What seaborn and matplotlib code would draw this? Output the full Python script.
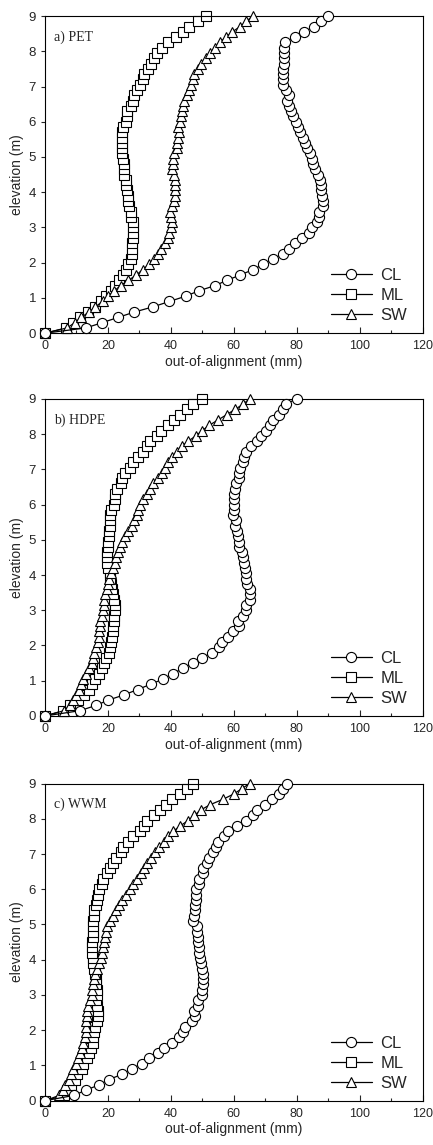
import numpy as np
import pandas as pd
import matplotlib
matplotlib.use("Agg")
import matplotlib.pyplot as plt
from matplotlib.ticker import MultipleLocator
import seaborn as sns

# elevation of the measuring points (m), shared by all curves
elevation = [0.00, 0.15, 0.30, 0.45, 0.60, 0.75, 0.90, 1.05, 1.20, 1.35,
             1.50, 1.65, 1.80, 1.95, 2.10, 2.25, 2.40, 2.55, 2.70, 2.85,
             3.00, 3.15, 3.30, 3.45, 3.60, 3.75, 3.90, 4.05, 4.20, 4.35,
             4.50, 4.65, 4.80, 4.95, 5.10, 5.25, 5.40, 5.55, 5.70, 5.85,
             6.00, 6.15, 6.30, 6.45, 6.60, 6.75, 6.90, 7.05, 7.20, 7.35,
             7.50, 7.65, 7.80, 7.95, 8.10, 8.25, 8.40, 8.55, 8.70, 8.85,
             9.00]

# out-of-alignment (mm)
pet_cl = [0, 13.0, 18.2, 23.3, 28.4, 34.4, 39.5, 44.7, 48.8, 54.0,
          57.8, 62.0, 66.0, 69.2, 72.3, 75.5, 77.4, 79.4, 81.6, 83.9,
          84.9, 86.3, 87.2, 87.1, 88.2, 88.2, 87.9, 87.6, 87.6, 87.4,
          86.9, 85.8, 85.3, 84.9, 84.2, 83.4, 82.6, 81.9, 81.0, 80.3,
          79.8, 78.9, 78.2, 77.4, 77.0, 77.4, 76.5, 75.5, 75.5, 75.7,
          75.7, 75.9, 75.9, 76.1, 76.1, 76.3, 79.4, 82.3, 85.5, 87.7,
          90.0]
pet_ml = [0, 6.7, 8.8, 11.1, 13.5, 15.9, 17.8, 19.4, 21.0, 22.2,
          23.6, 24.9, 25.7, 26.5, 27.2, 27.5, 27.5, 27.5, 27.8, 27.9,
          28.1, 28.1, 27.3, 27.2, 26.8, 26.5, 26.5, 26.0, 25.7, 25.7,
          25.1, 25.1, 25.1, 24.9, 24.4, 24.4, 24.4, 24.5, 24.6, 24.7,
          25.7, 26.0, 26.0, 27.2, 28.1, 28.4, 29.1, 30.2, 31.0, 31.6,
          32.8, 33.7, 34.6, 35.7, 37.3, 39.2, 41.5, 43.8, 45.8, 48.7,
          51.1]
pet_sw = [0, 7.0, 9.5, 11.5, 14.0, 16.0, 18.3, 20.0, 22.0, 24.0,
          26.5, 29.0, 31.0, 33.0, 34.5, 35.8, 37.0, 38.0, 39.0, 39.5,
          40.0, 40.5, 40.0, 39.8, 40.3, 41.0, 41.3, 41.3, 41.3, 41.2,
          41.0, 40.5, 40.6, 40.7, 41.0, 41.8, 42.0, 42.2, 42.5, 42.3,
          42.8, 43.2, 43.6, 43.8, 44.3, 45.0, 45.8, 46.5, 47.0, 47.5,
          48.5, 49.5, 51.0, 52.5, 54.0, 55.5, 57.5, 59.5, 62.0, 64.0,
          66.0]

hdpe_cl = [0, 11.1, 16.2, 20.1, 25.2, 29.4, 33.6, 37.6, 40.6, 43.8,
           46.9, 50.0, 53.1, 55.3, 56.1, 58.3, 59.6, 61.8, 61.4, 63.0,
           63.9, 63.9, 65.1, 65.2, 65.0, 64.3, 64.0, 64.0, 63.5, 63.3,
           62.8, 62.5, 61.8, 61.6, 61.4, 61.0, 60.5, 60.8, 59.8, 60.0,
           60.2, 60.2, 60.2, 60.3, 60.8, 61.5, 61.8, 62.0, 62.8, 63.2,
           64.0, 65.5, 67.5, 68.5, 70.3, 71.5, 72.5, 74.5, 75.5, 76.5,
           80.0]
hdpe_ml = [0, 5.8, 8.0, 10.5, 12.5, 14.0, 14.8, 15.8, 17.0, 18.0,
           18.7, 19.5, 20.3, 20.8, 21.0, 21.2, 21.5, 21.6, 21.8, 22.0,
           22.1, 22.2, 22.0, 21.5, 21.2, 21.0, 20.8, 20.5, 20.0, 19.8,
           19.7, 19.8, 20.0, 20.1, 20.2, 20.3, 20.5, 20.6, 20.8, 21.0,
           22.0, 22.2, 22.3, 23.0, 24.0, 24.5, 25.5, 27.0, 28.0, 29.5,
           31.0, 32.5, 33.5, 35.5, 37.0, 39.0, 41.0, 43.0, 45.0, 47.0,
           50.0]
hdpe_sw = [0, 6.0, 7.9, 9.0, 9.9, 10.7, 11.4, 12.2, 13.0, 14.0,
           14.8, 15.3, 15.7, 16.2, 16.7, 17.0, 17.3, 17.4, 17.5, 18.0,
           18.5, 18.6, 18.8, 19.2, 19.6, 20.0, 20.4, 21.0, 21.7, 22.1,
           22.6, 23.2, 23.8, 24.6, 25.4, 26.4, 27.5, 28.3, 29.1, 29.7,
           30.2, 31.2, 32.3, 33.3, 34.4, 35.8, 37.3, 38.2, 39.2, 40.5,
           41.8, 43.5, 45.5, 48.0, 50.0, 52.2, 55.0, 57.7, 60.4, 63.0,
           65.0]

wwm_cl = [0, 9.2, 13.0, 17.2, 20.3, 24.5, 27.5, 30.7, 33.1, 36.0,
          37.9, 40.3, 42.6, 44.0, 44.5, 46.6, 47.7, 47.4, 48.5, 48.5,
          49.8, 49.8, 50.1, 50.3, 50.3, 49.8, 49.6, 49.3, 49.0, 48.9,
          48.7, 48.5, 48.2, 48.2, 46.9, 47.5, 47.7, 47.7, 47.9, 48.0,
          48.0, 49.0, 49.0, 50.1, 50.3, 51.4, 52.2, 53.3, 54.2, 55.0,
          57.0, 58.3, 61.0, 64.0, 66.0, 67.5, 69.8, 72.0, 74.5, 75.5,
          77.0]
wwm_ml = [0, 6.0, 6.9, 8.3, 9.5, 10.3, 11.7, 12.2, 13.2, 14.1,
          14.5, 15.1, 15.4, 15.6, 15.9, 16.4, 16.7, 16.7, 16.4, 16.2,
          16.4, 16.4, 16.2, 16.1, 15.9, 15.7, 15.4, 15.1, 14.8, 15.0,
          15.0, 15.1, 15.1, 15.4, 15.4, 15.6, 15.7, 16.2, 16.6, 16.9,
          17.3, 18.0, 18.5, 19.6, 20.7, 21.7, 22.5, 24.0, 24.9, 26.5,
          28.1, 30.2, 31.5, 32.3, 34.6, 36.5, 38.3, 40.3, 42.9, 45.0,
          47.1]
wwm_sw = [0, 4.5, 5.8, 6.5, 7.5, 8.3, 9.0, 9.8, 10.5, 11.2,
          11.7, 12.2, 12.6, 13.0, 13.0, 13.1, 13.2, 13.3, 13.8, 14.3,
          14.8, 15.0, 15.3, 15.6, 16.0, 16.5, 17.0, 17.7, 18.2, 18.5,
          18.8, 19.0, 19.3, 19.6, 20.5, 21.5, 22.5, 23.5, 24.5, 25.8,
          27.0, 28.0, 29.3, 30.5, 31.5, 32.5, 33.7, 34.8, 36.3, 37.8,
          39.2, 40.8, 43.0, 45.5, 47.5, 49.5, 52.5, 56.5, 59.9, 62.5,
          65.0]

panels = ["a) PET", "b) HDPE", "c) WWM"]
series = ["CL", "ML", "SW"]
markers = {"CL": "o", "ML": "s", "SW": "^"}
zorders = {"CL": 4, "ML": 2.5, "SW": 3}

data = {
    "a) PET": [pet_cl, pet_ml, pet_sw],
    "b) HDPE": [hdpe_cl, hdpe_ml, hdpe_sw],
    "c) WWM": [wwm_cl, wwm_ml, wwm_sw],
}

sns.set_style("ticks")
plt.rcParams["font.family"] = ["Liberation Sans", "DejaVu Sans"]
plt.rcParams["axes.linewidth"] = 0.8

fig = plt.figure(figsize=(4.33, 11.45), dpi=100)
bottoms = [0.709, 0.3747, 0.0387]

for panel, bottom in zip(panels, bottoms):
    ax = fig.add_axes([0.104, bottom, 0.872, 0.277])
    for name, vals in zip(series, data[panel]):
        df = pd.DataFrame({"x": vals, "y": elevation})
        sns.lineplot(data=df, x="x", y="y", ax=ax, sort=False, estimator=None,
                     orient="y", color="black", linewidth=0.9,
                     marker=markers[name], markersize=7.3,
                     markerfacecolor="white", markeredgecolor="black",
                     markeredgewidth=0.8, label=name, clip_on=False,
                     zorder=zorders[name])

    ax.set_xlim(0, 120)
    ax.set_ylim(0, 9)
    ax.set_xticks(np.arange(0, 121, 20))
    ax.xaxis.set_minor_locator(MultipleLocator(10))
    ax.set_yticks(np.arange(0, 10, 1))
    ax.tick_params(axis="x", direction="in", length=4, width=0.8,
                   labelsize=9, pad=5)
    ax.tick_params(axis="x", which="minor", direction="in", length=2, width=0.8)
    ax.tick_params(axis="y", direction="out", length=3, width=0.8, labelsize=9.5)
    for s in ax.spines.values():
        s.set_visible(True)
        s.set_color("black")
    ax.set_xlabel("out-of-alignment (mm)", fontsize=10, labelpad=2)
    ax.set_ylabel("elevation (m)", fontsize=10, labelpad=3)
    ax.text(0.025, 0.955, panel, transform=ax.transAxes, ha="left", va="top",
            fontsize=10, family="Liberation Serif")
    ax.legend(loc="lower right", frameon=False, fontsize=12,
              handlelength=2.45, handletextpad=0.5, labelspacing=0.3,
              borderpad=0.4, borderaxespad=0.2, bbox_to_anchor=(0.985, 0.0))

fig.savefig("out.png", dpi=100)
